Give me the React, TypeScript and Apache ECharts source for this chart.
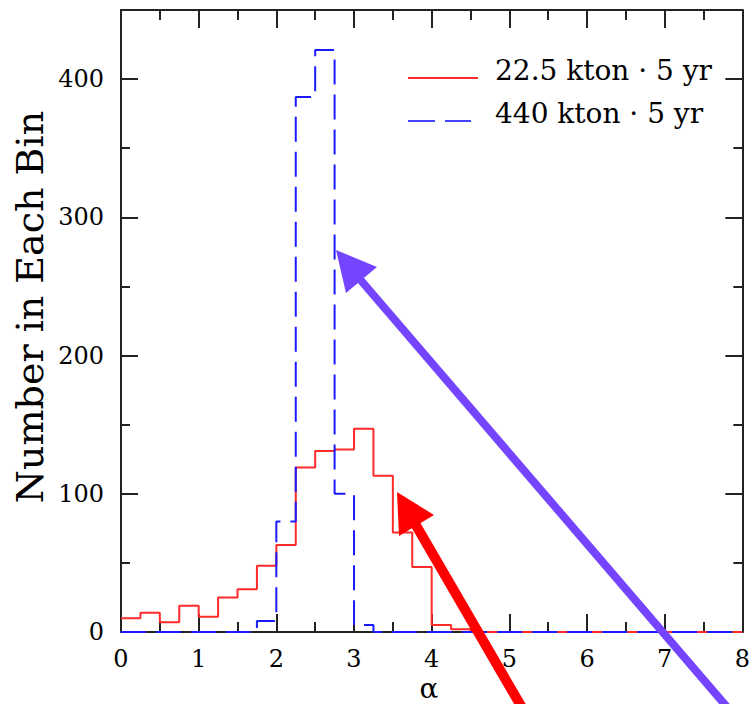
import React, { useEffect, useRef } from "react";
import * as echarts from "echarts";

const binEdges: number[] = [
  0, 0.25, 0.5, 0.75, 1, 1.25, 1.5, 1.75, 2, 2.25, 2.5, 2.75, 3, 3.25, 3.5, 3.75,
  4, 4.25, 4.5, 4.75, 5, 5.25, 5.5, 5.75, 6, 6.25, 6.5, 6.75, 7, 7.25, 7.5, 7.75, 8,
];
const red22: number[] = [
  10, 14, 7, 19, 11, 25, 31, 48, 63, 119, 131, 132, 147, 113, 72, 47,
  5, 2, 0, 0, 0, 0, 0, 0, 0, 0, 0, 0, 0, 0, 0, 0,
];
const blue440: number[] = [
  0, 0, 0, 0, 0, 0, 0, 8, 80, 387, 421, 100, 5, 0, 0, 0,
  0, 0, 0, 0, 0, 0, 0, 0, 0, 0, 0, 0, 0, 0, 0, 0,
];
const yTicks: number[] = [0, 100, 200, 300, 400];
const xTicks: number[] = [0, 1, 2, 3, 4, 5, 6, 7, 8];
const legendNames: string[] = ["22.5 kton · 5 yr", "440 kton · 5 yr"];
const xName = "α";
const yName = "Number in Each Bin";

const X_MIN = 0;
const X_MAX = 8;
const Y_MIN = 0;
const Y_MAX = 450;

const FONT = "DejaVu Serif";
const AXIS_COLOR = "#222";

function stepData(vals: number[]): [number, number][] {
  const out: [number, number][] = vals.map((v, i) => [binEdges[i], v]);
  out.push([binEdges[vals.length], vals[vals.length - 1]]);
  return out;
}

export default function App() {
  const ref = useRef<HTMLDivElement>(null);
  useEffect(() => {
    if (!ref.current) return;
    const chart = echarts.init(ref.current, undefined, { renderer: "svg" });
    const tick = (len: number) => ({
      show: true,
      inside: true,
      length: len,
      lineStyle: { color: AXIS_COLOR, width: 2 },
    });
    const minor = (len: number) => ({
      show: true,
      splitNumber: 2,
      length: len,
      lineStyle: { color: AXIS_COLOR, width: 2 },
    });
    const line = { show: true, onZero: false, lineStyle: { color: AXIS_COLOR, width: 2 } };
    chart.setOption({
      animation: false,
      backgroundColor: "#fff",
      grid: { left: 121, right: 10, top: 10, bottom: 72, containLabel: false },
      xAxis: [
        {
          type: "value",
          min: X_MIN,
          max: X_MAX,
          interval: 1,
          position: "bottom",
          axisLine: line,
          axisTick: tick(18),
          minorTick: minor(10),
          splitLine: { show: false },
          minorSplitLine: { show: false },
          axisLabel: { color: "#000", fontFamily: FONT, fontSize: 24, margin: 15 },
        },
        {
          type: "value",
          min: X_MIN,
          max: X_MAX,
          interval: 1,
          position: "top",
          axisLine: line,
          axisTick: tick(18),
          minorTick: minor(10),
          splitLine: { show: false },
          minorSplitLine: { show: false },
          axisLabel: { show: false },
        },
      ],
      yAxis: [
        {
          type: "value",
          min: Y_MIN,
          max: Y_MAX,
          interval: 100,
          position: "left",
          axisLine: line,
          axisTick: tick(17),
          minorTick: minor(9),
          splitLine: { show: false },
          minorSplitLine: { show: false },
          axisLabel: {
            color: "#000",
            fontFamily: FONT,
            fontSize: 24,
            margin: 17,
            formatter: (v: number) => (yTicks.includes(v) ? String(v) : ""),
          },
        },
        {
          type: "value",
          min: Y_MIN,
          max: Y_MAX,
          interval: 100,
          position: "right",
          axisLine: line,
          axisTick: tick(17),
          minorTick: minor(9),
          splitLine: { show: false },
          minorSplitLine: { show: false },
          axisLabel: { show: false },
        },
      ],
      series: [
        {
          name: legendNames[0],
          type: "line",
          step: "end",
          data: stepData(red22),
          showSymbol: false,
          lineStyle: { color: "#ff2a2a", width: 2 },
          z: 3,
        },
        {
          name: legendNames[1],
          type: "line",
          step: "end",
          data: stepData(blue440),
          showSymbol: false,
          lineStyle: { color: "#1a1aff", width: 2, type: [25, 10] },
          z: 4,
        },
      ],
      graphic: [
        {
          type: "text",
          x: 30,
          y: 307,
          rotation: Math.PI / 2,
          style: { text: yName, fill: "#000", font: `38px "${FONT}"`, align: "center", verticalAlign: "middle" },
        },
        {
          type: "text",
          x: 429,
          y: 688,
          style: { text: xName, fill: "#000", font: `28px "${FONT}"`, align: "center", verticalAlign: "middle" },
        },
        { type: "line", shape: { x1: 408, y1: 78, x2: 478, y2: 78 }, style: { stroke: "#ff2a2a", lineWidth: 2 } },
        {
          type: "text",
          x: 495,
          y: 70,
          style: { text: legendNames[0], fill: "#000", font: `28px "${FONT}"`, verticalAlign: "middle" },
        },
        { type: "line", shape: { x1: 408, y1: 121, x2: 435, y2: 121 }, style: { stroke: "#4444ff", lineWidth: 2 } },
        { type: "line", shape: { x1: 445, y1: 121, x2: 471, y2: 121 }, style: { stroke: "#4444ff", lineWidth: 2 } },
        {
          type: "text",
          x: 495,
          y: 113,
          style: { text: legendNames[1], fill: "#000", font: `28px "${FONT}"`, verticalAlign: "middle" },
        },
        { type: "line", z: 100, shape: { x1: 352, y1: 270, x2: 745, y2: 728 }, style: { stroke: "#7444ff", lineWidth: 8 } },
        { type: "polygon", z: 100, shape: { points: [[336, 250], [377, 267], [346, 293]] }, style: { fill: "#7444ff" } },
        { type: "line", z: 100, shape: { x1: 410, y1: 515, x2: 528, y2: 718 }, style: { stroke: "#ff0000", lineWidth: 10 } },
        { type: "polygon", z: 100, shape: { points: [[397, 492], [434, 515], [399, 536]] }, style: { fill: "#ff0000" } },
      ],
    });
    return () => chart.dispose();
  }, []);
  return <div ref={ref} style={{ width: 753, height: 704, position: "absolute", left: 0, top: 0 }} />;
}
